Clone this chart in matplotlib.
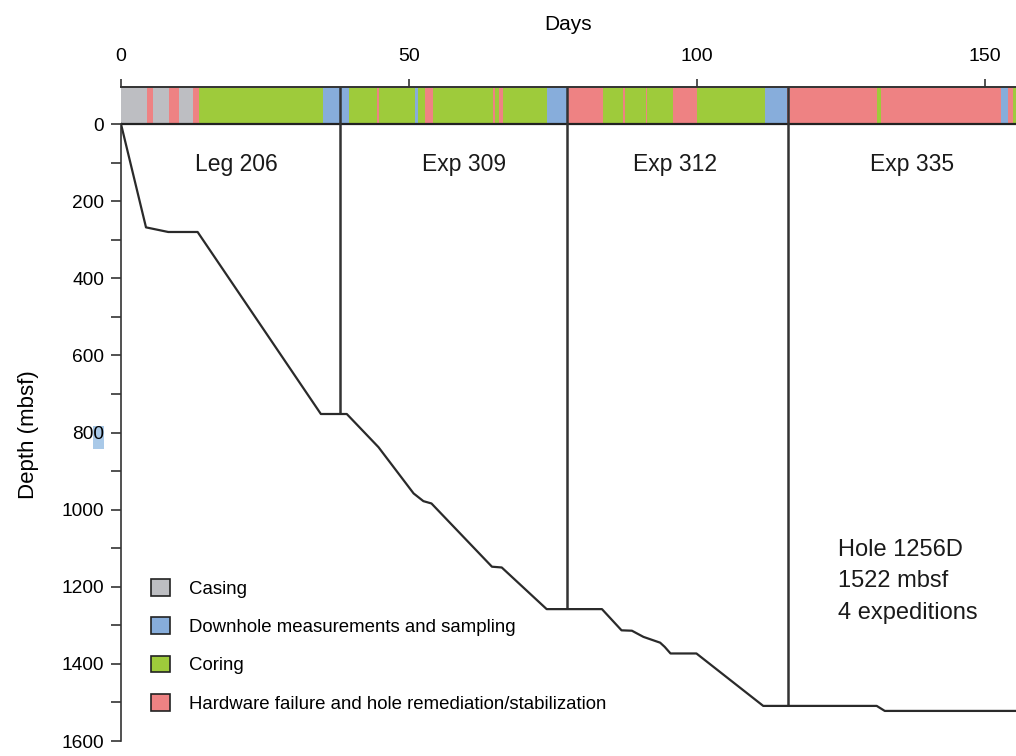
import numpy as np
import matplotlib
matplotlib.use("Agg")
import matplotlib.pyplot as plt
from matplotlib.patches import Patch, Rectangle

plt.rcParams['font.family'] = ['Liberation Sans', 'DejaVu Sans']

# drilling depth against elapsed days
curve_days = [0, 4.34, 8.2, 13.3, 34.7, 39.2, 44.7, 50.8, 52.5, 53.9, 64.4, 66.1,
              73.9, 83.5, 86.9, 88.7, 90.7, 93.6, 94.4, 95.4, 99.9, 111.5, 131.2,
              132.6, 156]
curve_depth = [0, 268, 280, 280, 752, 752, 838, 958, 978, 984, 1148, 1150,
               1258, 1258, 1313, 1314, 1330, 1345, 1356, 1373, 1373, 1509, 1509,
               1522, 1522]

# operations timeline (segment start day + activity code)
seg_start = [0, 4.46, 5.61, 8.39, 10.07, 12.5, 13.54, 35.12, 39.58, 44.39, 44.84,
             51.04, 51.51, 52.78, 54.22, 64.64, 64.98, 65.63, 66.37, 74.01, 77.38,
             83.73, 87.2, 87.55, 91.09, 91.37, 95.89, 100.05, 111.81, 115.68,
             131.2, 131.94, 152.83, 153.94, 154.91]
seg_kind = ['C', 'H', 'C', 'H', 'C', 'H', 'G', 'D', 'G', 'H', 'G', 'D', 'G', 'H',
            'G', 'H', 'G', 'H', 'G', 'D', 'H', 'G', 'H', 'G', 'H', 'G', 'H', 'G',
            'D', 'H', 'G', 'H', 'D', 'H', 'G']
seg_end = 157

kinds = ['C', 'D', 'G', 'H']
kind_labels = ['Casing', 'Downhole measurements and sampling', 'Coring',
               'Hardware failure and hole remediation/stabilization']
kind_colors = {'C': '#bdbec2', 'D': '#87addb', 'G': '#9ecb3b', 'H': '#ee8283'}

exp_bounds = [38.0, 77.4, 115.8]
exp_names = ['Leg 206', 'Exp 309', 'Exp 312', 'Exp 335']
exp_centers = [20.1, 59.5, 96.2, 137.3]

BAR_TOP = -96

fig = plt.figure(figsize=(10.16, 7.56), dpi=100)
ax = fig.add_axes([121 / 1016, 15 / 756, 1 - 121 / 1016, 654 / 756])

# colored activity bar
ends = seg_start[1:] + [seg_end]
for k in kinds:
    spans = [(s, e - s) for s, e, kk in zip(seg_start, ends, seg_kind) if kk == k]
    ax.broken_barh(spans, (BAR_TOP, -BAR_TOP), facecolors=kind_colors[k],
                   edgecolor='none', zorder=2)
ax.axhline(0, color='#222222', lw=1.6, zorder=3)

# expedition boundaries run down to the depth reached
bound_depth = np.interp(exp_bounds, curve_days, curve_depth)
ax.vlines(exp_bounds, BAR_TOP, bound_depth, color='#333333', lw=1.8, zorder=4)

ax.plot(curve_days, curve_depth, color='#2a2a2a', lw=1.6, zorder=4)

for name, xc in zip(exp_names, exp_centers):
    ax.text(xc, 106, name, ha='center', va='center', fontsize=16.5, color='#1a1a1a')

ax.text(124.4, 1076, 'Hole 1256D\n1522 mbsf\n4 expeditions', ha='left', va='top',
        fontsize=17, linespacing=1.56, color='#1a1a1a')

ax.set_xlim(0, (1016 - 121) / 5.76)
ax.set_ylim(1600, BAR_TOP)

ax.xaxis.tick_top()
ax.xaxis.set_label_position('top')
ax.set_xticks([0, 50, 100, 150])
ax.set_xlabel('Days', fontsize=15, labelpad=13)
ax.tick_params(axis='x', length=6, width=1.2, labelsize=14, pad=10, color='#333333')

ax.set_yticks(np.arange(0, 1601, 200))
ax.set_yticks(np.arange(100, 1600, 200), minor=True)
ax.tick_params(axis='y', which='both', length=7, width=1.2, labelsize=13.8,
               pad=5, color='#333333')
ax.set_ylabel('Depth (mbsf)', fontsize=16)
ax.yaxis.set_label_coords(-0.092, 0.468)

for side in ['right', 'bottom']:
    ax.spines[side].set_visible(False)
ax.spines['left'].set_bounds(0, 1600)
ax.spines['left'].set_color('#333333')
ax.spines['left'].set_linewidth(1.2)
ax.spines['top'].set_color('#333333')
ax.spines['top'].set_linewidth(1.4)

handles = [Patch(facecolor=kind_colors[k], edgecolor='#222222', lw=1.2) for k in kinds]
ax.legend(handles, kind_labels, loc='lower left', bbox_to_anchor=(0.034, 0.043),
          frameon=False, fontsize=13.4, handlelength=1.0, handleheight=1.0,
          handletextpad=1.0, labelspacing=1.06, borderpad=0, borderaxespad=0)

# highlight box behind the 800 label
fig.patches.append(Rectangle((93 / 1016, 1 - 449 / 756), 11 / 1016, 23 / 756,
                             transform=fig.transFigure, facecolor='#a9c9e8',
                             edgecolor='none', zorder=-1))

fig.savefig('out.png', dpi=100)
